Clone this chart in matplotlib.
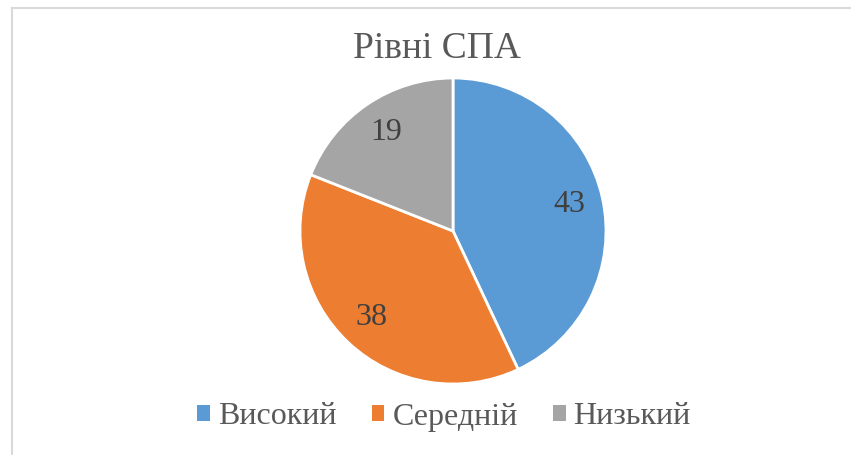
import matplotlib
matplotlib.use('Agg')
import matplotlib.pyplot as plt
from matplotlib.lines import Line2D
from matplotlib.patches import Patch

W, H = 851, 455

# chart data
categories = ['Високий', 'Середній', 'Низький']
values = [43, 38, 19]
colors = ['#5B9BD5', '#ED7D31', '#A5A5A5']
title = 'Рівні СПА'

plt.rcParams['font.family'] = ['Liberation Serif', 'DejaVu Serif']
text_color = '#595959'

fig = plt.figure(figsize=(W / 100, H / 100), dpi=100)
fig.patch.set_facecolor('white')

# pie centre ~ (453, 231) px, radius ~152 px
cx, cy, r = 453, 231, 153
ax = fig.add_axes([(cx - r) / W, (H - cy - r) / H, 2 * r / W, 2 * r / H])
wedges, texts, autotexts = ax.pie(
    values, colors=colors, startangle=90, counterclock=False,
    radius=1, autopct=lambda p: f'{round(p)}', pctdistance=0.78,
    wedgeprops={'edgecolor': 'white', 'linewidth': 2},
    textprops={'fontsize': 23, 'color': '#404040'})
ax.set_xlim(-1.0, 1.0)
ax.set_ylim(-1.0, 1.0)
ax.set_aspect('equal')
ax.axis('off')

fig.text(437 / W, 1 - 49 / H, title, ha='center', va='center',
         fontsize=27, color=text_color)

handles = [Patch(facecolor=c, edgecolor='none') for c in colors]
fig.legend(handles, categories, loc='center', bbox_to_anchor=(444 / W, 1 - 417 / H),
           ncol=3, frameon=False, fontsize=23, handlelength=0.4, handleheight=0.4,
           handletextpad=0.25, columnspacing=1.1, labelcolor=text_color)

# partial chart border (left and top visible)
fig.add_artist(Line2D([12 / W, 12 / W], [0, 1 - 8 / H], color='#D9D9D9', lw=1.5,
                      transform=fig.transFigure))
fig.add_artist(Line2D([12 / W, 1], [1 - 8 / H, 1 - 8 / H], color='#D9D9D9', lw=1.5,
                      transform=fig.transFigure))

fig.savefig('out.png', dpi=100, facecolor='white')
